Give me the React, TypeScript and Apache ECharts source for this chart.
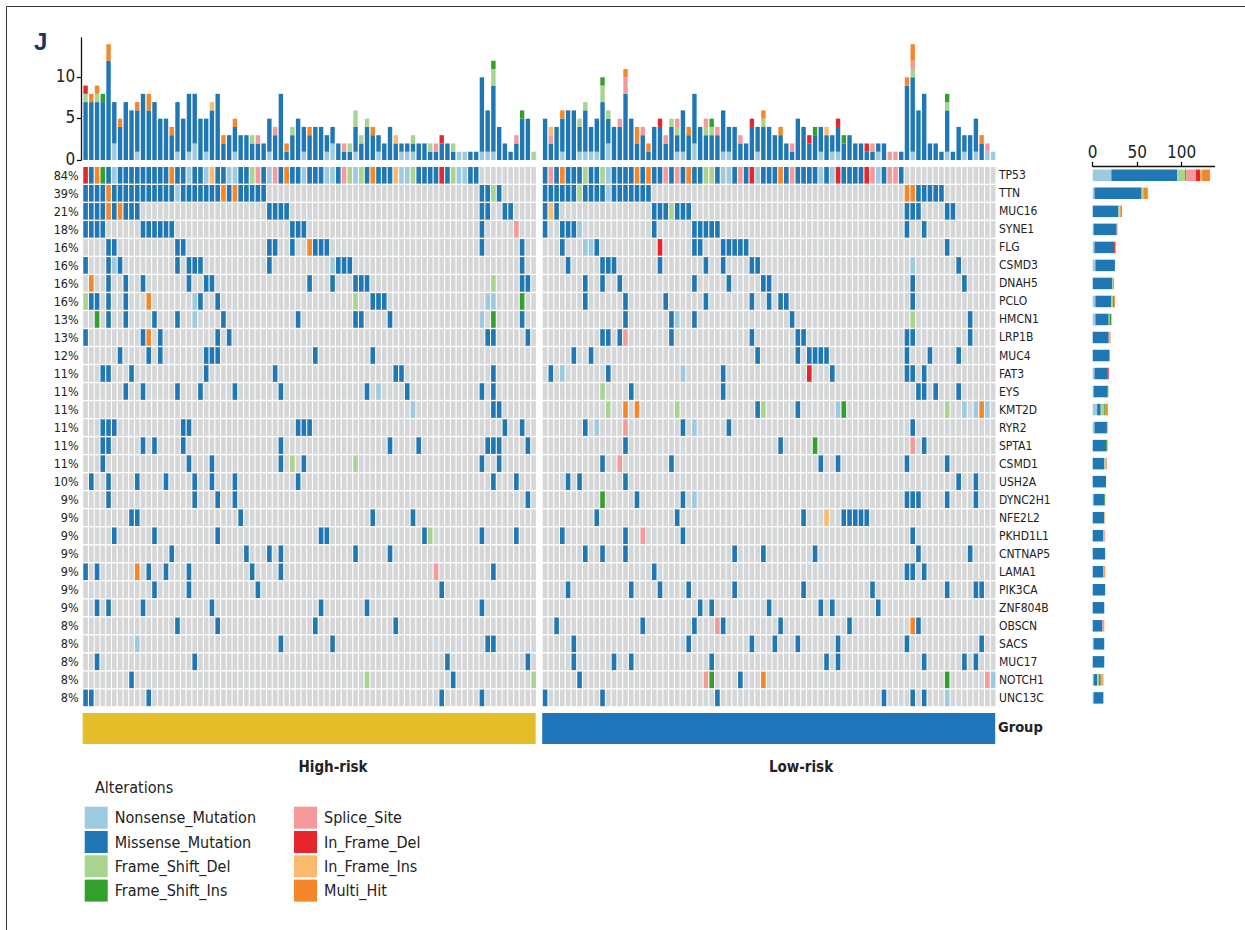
import React, { useEffect, useRef } from 'react';
import * as echarts from 'echarts';

const FONT = "'DejaVu Sans Condensed', 'Liberation Sans Narrow', sans-serif";

const types = ['Nonsense_Mutation', 'Missense_Mutation', 'Frame_Shift_Del', 'Frame_Shift_Ins', 'Splice_Site', 'In_Frame_Del', 'In_Frame_Ins', 'Multi_Hit'];
const typeCodes = 'NMDFSRIO';
const typeColors = ['#9DCAE0', '#1F78B4', '#A9D48F', '#33A02C', '#F59A9B', '#E6262B', '#FBBA6D', '#F5862A'];
const GREY = '#D5D6D7';

const groups = ['High-risk', 'Low-risk'];
const groupColors = ['#E5BD28', '#1F75BA'];
const nHigh = 79;
const nLow = 79;

const genes = ['TP53', 'TTN', 'MUC16', 'SYNE1', 'FLG', 'CSMD3', 'DNAH5', 'PCLO', 'HMCN1', 'LRP1B', 'MUC4', 'FAT3', 'EYS', 'KMT2D', 'RYR2', 'SPTA1', 'CSMD1', 'USH2A', 'DYNC2H1', 'NFE2L2', 'PKHD1L1', 'CNTNAP5', 'LAMA1', 'PIK3CA', 'ZNF804B', 'OBSCN', 'SACS', 'MUC17', 'NOTCH1', 'UNC13C'];
const genePct = ['84%', '39%', '21%', '18%', '16%', '16%', '16%', '16%', '13%', '13%', '12%', '11%', '11%', '11%', '11%', '11%', '11%', '10%', '9%', '9%', '9%', '9%', '9%', '9%', '9%', '8%', '8%', '8%', '8%', '8%'];

// column positions (1-based) and alteration code per gene, High-risk samples
const highMut = [
  '1R 2M 3O 4F 5M 6N 7-15M 16O 17-18M 19N 20-21M 22N 23I 24-25M 26-27N 28-29M 30D 31S 32M 33N 34S 35M 36O 37-38M 39N 40-42M 43-44N 45M 46S 47D 48N 49D 50M 51O 52-54M 55I 56-57N 58D 59-62M 63R 64M 65D 66-67N 68-69M',
  '1-4M 5O 6-16M 17N 18-24M 25O 26M 27O 28-32M 70-71M 72D 73M',
  '1-4M 5O 6M 7O 8-10M 33-36M 70-71M 74-75M',
  '1-4M 11-16M 37-39M 70M 76S',
  '5-6M 17-18M 33-34M 37M 40O 41-43M 70M 77M',
  '1M 5M 6N 7M 17M 19-21M 33M 44N 45-47M 77M',
  '2O 5M 8M 11M 19M 22-23M 40M 44M 48-50M 72D 77-78M',
  '1D 2-3M 5M 8M 12O 20N 21M 24M 48D 51-53M 71-72N 77F',
  '3F 5M 8M 13M 17M 20N 25M 38M 48-49M 54M 70N 72F 77M',
  '1M 11M 12O 14M 24M 26M 71-72M 78M',
  '7M 12M 14M 22-24M 41M 51M',
  '4-5M 9M 22M 34M 55-56M 72M',
  '8M 11M 17M 21M 27M 35M 50M 52N 57M 70M 72M',
  '58N 72-73M',
  '4-6M 18-19M 38-40M 74M 77M',
  '4-5M 11M 13M 18M 35M 54M 59M 71-73M 78M',
  '4M 19M 23M 35M 37D 39M 48D 70M 73M',
  '2M 5M 10M 15M 20M 23M 27M 38M 72M 76M',
  '5M 20M 24M 27M 78M',
  '9-10M 28M 51M 58M',
  '6M 13M 24M 42-43M 60M 61D 70M 76M',
  '16M 29M 33M 35M 48M 54M',
  '1M 3M 10O 12M 15M 19M 30M 35M 62S 72M',
  '13M 19M 31M 63M',
  '3M 5M 11M 23M 42M 50M 70M',
  '17M 24M 41M 55M',
  '10N 35M 44M 71-72M',
  '3M 20M 64M 78M',
  '9M 50D 65M 79D',
  '1-2M 12M 63M 70M',
];

// Low-risk samples
const lowMut = [
  '1M 2S 3M 4O 5-7M 8D 9-10M 11D 12N 13-16M 17O 18M 19O 20-21M 22S 23M 24S 25M 26O 27-28M 29-30D 31M 32-33N 34M 35S 36M 37R 38N 39-41M 42O 43M 44S 45-48M 49N 50M 51N 52R 53-56M 57R 58S 59N 60M 61-62S 63M',
  '1-6M 7D 8-11M 12N 13-19M 64-65O 66-70M',
  '1M 2I 3M 20-22M 23D 24-26M 64-66M 71-72M',
  '1M 4-6M 7N 20M 27-31M 64M 67M',
  '4M 8-9N 10M 21R 27-28M 32-36M 71M',
  '5M 11-13M 21M 29M 32M 37-38M 65N 73M',
  '8M 11M 14M 27M 33M 39-40M 65M 74M',
  '8M 15M 22M 29M 37M 40M 42-43M 65M',
  '15M 23M 24N 27M 44M 65D 75M',
  '11-12M 14M 15S 23M 37M 45-46M 64-65M 75M',
  '6M 9M 38M 45M 47-50M 64M 68M 73M',
  '2M 4N 12M 25N 32M 47R 51M 64-65M 67M',
  '11D 16M 32M 66-67M 69M 73M',
  '12D 15O 17O 24D 38M 39D 45M 52N 53F 71D 74N 76N 77O 78N',
  '8M 10N 15S 25M 27N 33M 65M',
  '15M 42M 48F 65S 67M',
  '11M 14S 23M 49M 52M 64M 71M',
  '5M 7M 15M 73M 76M',
  '11F 17M 25M 27N 64-66M 71M 76M',
  '10M 24M 46M 50I 53-57M',
  '4M 15M 18S 25M 65M',
  '8M 11M 15M 34M 39M 48M 66M 75M',
  '20M 64-65M 67M',
  '5M 16M 21M 26M 34M 46M 58M 71M 76-77M',
  '28M 30M 40M 49M 51M 59M',
  '3M 18M 27M 31S 32M 42M 54M 65O 66M',
  '6M 26M 37M 41M 45M 52M 64M 77M',
  '6M 13M 16M 30M 50M 52M 67M 74M 76M',
  '7M 29S 30F 35M 39O 71F 78S 79N',
  '1M 11M 31M 60M 65M 67M 71N',
];

// per-sample mutation burden (counts per alteration code)
const tmbHigh = [
  'M7D1R1', 'M7O1', 'M7D1O1', 'M7F1', 'M12O2', 'N2M5', 'M4O1', 'M7', 'M6', 'N1M5O1',
  'M8', 'M6O2', 'M7', 'M5', 'M5', 'M3O1', 'N1M6', 'M5', 'N1M7', 'N2M6',
  'M5', 'N1M4', 'M6I1', 'M8', 'M2O1', 'M3', 'N1M3O1', 'M3', 'M3', 'M2D1',
  'M2S1', 'M2', 'N1M4', 'M3S1', 'M8', 'M1O1', 'M3D1', 'M5', 'N1M3', 'M3O1',
  'M4', 'M4', 'N1M2', 'N2M2', 'M2', 'M1S1', 'M1D1', 'N1M3D2', 'M2D1', 'M4D1',
  'M3O1', 'N1M2', 'M2', 'M4', 'M2I1', 'N1M1', 'N1M1', 'N1M1D1', 'M2', 'M2',
  'M1D1', 'M1S1', 'M2R1', 'M2', 'M1D1', 'N1', 'N1', 'M1', 'M1', 'N1M9',
  'N1M5', 'N1M8D2F1', 'M4', 'M2', 'M1', 'M2S1', 'M5F1', 'M5', 'D1',
];
const tmbLow = [
  'M5', 'M2S1I1', 'M4', 'N1M4O1', 'M6', 'M6', 'N1M3D1', 'N1M5D1', 'N1M3', 'N1M4',
  'M7D2F1', 'N2M3D1', 'M4', 'M4S1', 'M8S2O1', 'M5', 'M2O2', 'M3S1', 'M1O1', 'M4',
  'M4R1', 'M2S1', 'M4D1', 'N1M2D1S1', 'N1M5', 'M3O1', 'N2M6', 'M4', 'M3D1S1', 'M3D1F1',
  'M3S1', 'N1M5', 'N1M3', 'M4', 'M2S1', 'M2', 'M4R1', 'N1M3', 'M4D1O1', 'M4',
  'M3', 'M3O1', 'M2', 'M1S1', 'M5', 'M4', 'M2R1', 'M3F1', 'N1M3', 'M3I1',
  'N1M2', 'N1M3R1', 'M2F1', 'M3', 'M2', 'M2', 'M1R1', 'M1S1', 'N1M1', 'M2',
  'S1', 'S1', 'M1', 'M9O1', 'N1M9D1S1O2', 'M6', 'M8', 'M2', 'M2', 'M1',
  'N1M5D1F1', 'M1', 'M4', 'N1M2', 'M3', 'N1M4', 'M2O1', 'N1S1', 'N1',
];

const tmbTicks = [0, 5, 10];
const geneTicks = [0, 50, 100];

function parseMut(s: string, n: number): number[] {
  const arr = new Array(n).fill(-1);
  s.split(/\s+/).filter(Boolean).forEach((tok) => {
    const m = tok.match(/^(\d+)(?:-(\d+))?([A-Z])$/);
    if (!m) return;
    const a = +m[1];
    const b = m[2] ? +m[2] : a;
    const t = typeCodes.indexOf(m[3]);
    for (let i = a; i <= b; i++) arr[i - 1] = t;
  });
  return arr;
}

function parseTmb(s: string): number[] {
  const c = new Array(8).fill(0);
  const re = /([A-Z])(\d+)/g;
  let m: RegExpExecArray | null;
  while ((m = re.exec(s))) c[typeCodes.indexOf(m[1])] += +m[2];
  return c;
}

function buildOption() {
  const nSlots = nHigh + 1 + nLow;
  const slotCats = [
    ...Array.from({ length: nHigh }, (_, i) => 'H' + (i + 1)),
    'gap',
    ...Array.from({ length: nLow }, (_, i) => 'L' + (i + 1)),
  ];
  const slotOf = (grp: number, i: number) => (grp === 0 ? i : nHigh + 1 + i);

  const highM = highMut.map((s) => parseMut(s, nHigh));
  const lowM = lowMut.map((s) => parseMut(s, nLow));

  const matrixData: number[][] = [];
  genes.forEach((_, gi) => {
    highM[gi].forEach((t, i) => matrixData.push([slotOf(0, i), gi, t]));
    lowM[gi].forEach((t, i) => matrixData.push([slotOf(1, i), gi, t]));
  });

  const tmbH = tmbHigh.map(parseTmb);
  const tmbL = tmbLow.map(parseTmb);

  const tmbSeries = types.map((name, t) => ({
    name,
    type: 'bar',
    stack: 'tmb',
    xAxisIndex: 0,
    yAxisIndex: 0,
    barWidth: 4.4,
    itemStyle: { color: typeColors[t] },
    data: [...tmbH.map((c) => c[t] || '-'), '-', ...tmbL.map((c) => c[t] || '-')],
  }));

  const counts = genes.map((_, gi) => {
    const c = new Array(8).fill(0);
    [...highM[gi], ...lowM[gi]].forEach((t) => {
      if (t >= 0) c[t]++;
    });
    return c;
  });

  const rightSeries = types.map((name, t) => ({
    name,
    type: 'bar',
    stack: 'genes',
    xAxisIndex: 3,
    yAxisIndex: 4,
    barWidth: 11.5,
    itemStyle: { color: typeColors[t] },
    data: counts.map((c) => c[t] || '-'),
  }));

  const L = 82.7;
  const W = nSlots * 5.744;
  const MT = 166.3;
  const MH = 540.6;

  const textBase = { fontFamily: FONT, fill: '#222' };

  return {
    animation: false,
    backgroundColor: '#fff',
    textStyle: { fontFamily: FONT },
    grid: [
      { left: L, top: 38, width: W, height: 122, containLabel: false },
      { left: L, top: MT, width: W, height: MH, containLabel: false },
      { left: L, top: 713, width: W, height: 31, containLabel: false },
      { left: 1092.7, top: MT, width: 121.8, height: MH, containLabel: false },
    ],
    xAxis: [
      { type: 'category', gridIndex: 0, data: slotCats, show: false },
      { type: 'category', gridIndex: 1, data: slotCats, show: false },
      { type: 'category', gridIndex: 2, data: slotCats, show: false },
      {
        type: 'value', gridIndex: 3, position: 'top', min: 0, max: 137, interval: 50,
        axisLine: { show: true, lineStyle: { color: '#111', width: 1.3 } },
        axisTick: { show: true, length: 4.5, customValues: geneTicks, lineStyle: { color: '#111', width: 1.3 } },
        axisLabel: { fontSize: 17, color: '#222', fontFamily: FONT, margin: 6, customValues: geneTicks },
        splitLine: { show: false },
      },
    ],
    yAxis: [
      {
        type: 'value', gridIndex: 0, min: 0, max: 14.75, interval: 5, offset: 1.4,
        axisLine: { show: true, lineStyle: { color: '#111', width: 1.3 } },
        axisTick: { show: true, length: 4.5, customValues: tmbTicks, lineStyle: { color: '#111', width: 1.3 } },
        axisLabel: { fontSize: 17, color: '#222', fontFamily: FONT, margin: 6, customValues: tmbTicks, verticalAlign: 'bottom', lineHeight: 17, padding: [0, 0, -7, 0] },
        splitLine: { show: false },
      },
      {
        type: 'category', gridIndex: 1, data: genes, inverse: true, position: 'left',
        axisLine: { show: false }, axisTick: { show: false },
        axisLabel: { interval: 0, fontSize: 12.5, color: '#222', fontFamily: FONT, margin: 4, formatter: (_: string, i: number) => genePct[i] },
      },
      {
        type: 'category', gridIndex: 1, data: genes, inverse: true, position: 'right',
        axisLine: { show: false }, axisTick: { show: false },
        axisLabel: { interval: 0, fontSize: 12, color: '#222', fontFamily: FONT, margin: 3 },
      },
      { type: 'category', gridIndex: 2, data: ['Group'], show: false },
      { type: 'category', gridIndex: 3, data: genes, inverse: true, show: false },
    ],
    legend: [
      {
        data: types.slice(0, 4), orient: 'vertical', left: 84.7, top: 806.7, itemWidth: 23, itemHeight: 22,
        itemGap: 2.3, icon: 'rect', selectedMode: false, padding: 0,
        textStyle: { fontSize: 16, color: '#222', fontFamily: FONT, padding: [0, 0, 0, 2] },
      },
      {
        data: types.slice(4), orient: 'vertical', left: 294, top: 806.7, itemWidth: 23, itemHeight: 22,
        itemGap: 2.3, icon: 'rect', selectedMode: false, padding: 0,
        textStyle: { fontSize: 16, color: '#222', fontFamily: FONT, padding: [0, 0, 0, 2] },
      },
    ],
    series: [
      ...tmbSeries,
      {
        type: 'custom',
        name: 'matrix',
        xAxisIndex: 1,
        yAxisIndex: 1,
        data: matrixData,
        encode: { x: 0, y: 1 },
        renderItem: (_params: any, api: any) => {
          const t = api.value(2);
          const c = api.coord([api.value(0), api.value(1)]);
          const sz = api.size([1, 1]);
          const w = sz[0] - 1.1;
          const h = sz[1] - 1.4;
          return {
            type: 'rect',
            shape: { x: c[0] - w / 2, y: c[1] - h / 2, width: w, height: h },
            style: { fill: t < 0 ? GREY : typeColors[t] },
          };
        },
      },
      {
        type: 'custom',
        name: 'group',
        xAxisIndex: 2,
        yAxisIndex: 3,
        data: [
          [0, 0, nHigh - 1, 0],
          [nHigh + 1, 0, nSlots - 1, 1],
        ],
        encode: { x: 0, y: 1 },
        renderItem: (params: any, api: any) => {
          const s = api.coord([api.value(0), 0]);
          const e = api.coord([api.value(2), 0]);
          const bw = api.size([1, 0])[0];
          const x0 = s[0] - bw / 2;
          const x1 = e[0] + bw / 2 - 0.8;
          return {
            type: 'rect',
            shape: { x: x0, y: params.coordSys.y, width: x1 - x0, height: params.coordSys.height },
            style: { fill: groupColors[api.value(3)] },
          };
        },
      },
      ...rightSeries,
    ],
    graphic: [
      { type: 'line', shape: { x1: 6.5, y1: 6.5, x2: 1245, y2: 6.5 }, style: { stroke: '#333', lineWidth: 1 } },
      { type: 'line', shape: { x1: 6.5, y1: 6.5, x2: 6.5, y2: 930 }, style: { stroke: '#333', lineWidth: 1 } },
      { type: 'text', x: 34, y: 41, style: { text: 'J', fontSize: 24, fontWeight: 'bold', fill: '#1B3460', fontFamily: "'Liberation Sans', sans-serif", verticalAlign: 'middle' } },
      { type: 'text', x: 95, y: 787, style: { ...textBase, text: 'Alterations', fontSize: 16, verticalAlign: 'middle' } },
      { type: 'text', x: 998, y: 727, style: { ...textBase, text: 'Group', fontSize: 14.5, fontWeight: 'bold', verticalAlign: 'middle' } },
      { type: 'text', x: 333, y: 767, style: { ...textBase, text: groups[0], fontSize: 15, fontWeight: 'bold', align: 'center', verticalAlign: 'middle' } },
      { type: 'text', x: 801, y: 767, style: { ...textBase, text: groups[1], fontSize: 15, fontWeight: 'bold', align: 'center', verticalAlign: 'middle' } },
    ],
  };
}

export default function App() {
  const ref = useRef<HTMLDivElement>(null);
  useEffect(() => {
    if (!ref.current) return;
    const chart = echarts.init(ref.current, null, { renderer: 'svg' });
    chart.setOption(buildOption() as any);
    return () => chart.dispose();
  }, []);
  return (
    <div
      ref={ref}
      style={{ position: 'fixed', left: 0, top: 0, width: 1245, height: 930, background: '#fff' }}
    />
  );
}
